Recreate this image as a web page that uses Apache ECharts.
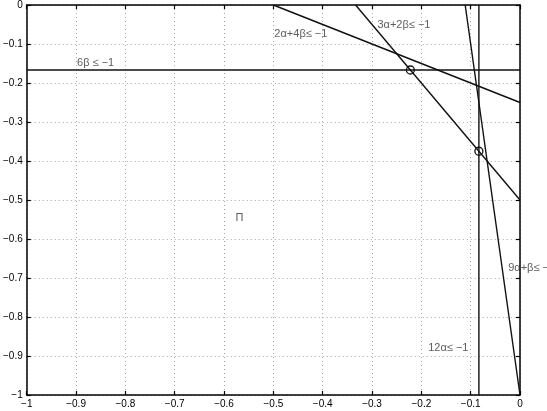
<!DOCTYPE html>
<html><head><meta charset="utf-8">
<script src="https://cdn.jsdelivr.net/npm/echarts@6/dist/echarts.min.js"></script>
<style>html,body{margin:0;padding:0;background:#fff}#c{width:547px;height:411px}</style>
</head><body><div id="c"></div>
<script>
// Constraint lines: endpoints [alpha, beta]
var line6b   = [[-1, -1/6], [0, -1/6]];
var line12a  = [[-1/12, 0], [-1/12, -1]];
var line2a4b = [[-0.5, 0], [0, -0.25]];
var line3a2b = [[-1/3, 0], [0, -0.5]];
var line9ab  = [[-1/9, 0], [0, -1]];
// Marked vertices
var vertices = [[-2/9, -1/6], [-1/12, -0.375]];
// Text labels [alpha, beta, text]
var labels = [
  [-0.898, -0.148, '6β ≤ −1'],
  [-0.498, -0.074, '2α+4β≤ −1'],
  [-0.289, -0.051, '3α+2β≤ −1'],
  [-0.024, -0.675, '9α+β≤ −1'],
  [-0.186, -0.880, '12α≤ −1'],
  [-0.577, -0.547, 'Π']
];
var xTicks = [-1, -0.9, -0.8, -0.7, -0.6, -0.5, -0.4, -0.3, -0.2, -0.1, 0];
var yTicks = [0, -0.1, -0.2, -0.3, -0.4, -0.5, -0.6, -0.7, -0.8, -0.9, -1];

function fmt(v){ if (Math.abs(v) < 1e-9) return '0'; var s = String(Math.round(v*10)/10); return s.replace('-', '−'); }

var grid = {left: 24.5, right: 27, top: 4, bottom: 16};
var axBase = {
  type: 'value', min: -1, max: 0, interval: 0.1,
  axisLine: {show: true, onZero: false, lineStyle: {color: '#000', width: 1.5}},
  axisTick: {show: true, inside: true, length: 4, lineStyle: {color: '#000', width: 1.2}}
};
var chart = echarts.init(document.getElementById('c'), null, {renderer: 'canvas'});
function lineSeries(d){
  return {type: 'line', data: d, xAxisIndex: 0, yAxisIndex: 0, symbol: 'none', silent: true,
    lineStyle: {color: '#111', width: 1.4}, clip: true, animation: false};
}
chart.setOption({
  animation: false,
  grid: grid,
  xAxis: [
    Object.assign({}, axBase, {position: 'bottom',
      axisLabel: {show: true, color: '#000', fontFamily: 'Liberation Sans', fontSize: 10, margin: 4, formatter: fmt},
      splitLine: {show: true, lineStyle: {color: '#aaa', type: [1, 3], width: 1}}}),
    Object.assign({}, axBase, {position: 'top', axisLabel: {show: false}, splitLine: {show: false}})
  ],
  yAxis: [
    Object.assign({}, axBase, {position: 'left',
      axisLabel: {show: true, color: '#000', fontFamily: 'Liberation Sans', fontSize: 10, margin: 4, formatter: fmt},
      splitLine: {show: true, lineStyle: {color: '#aaa', type: [1, 3], width: 1}}}),
    Object.assign({}, axBase, {position: 'right', axisLabel: {show: false}, splitLine: {show: false}})
  ],
  series: [
    lineSeries(line6b), lineSeries(line12a), lineSeries(line2a4b), lineSeries(line3a2b), lineSeries(line9ab),
    {type: 'scatter', data: vertices, symbol: 'circle', symbolSize: 8, z: 5,
      itemStyle: {color: 'rgba(0,0,0,0)', borderColor: '#111', borderWidth: 1.3, opacity: 1}, silent: true},
    {type: 'scatter', data: labels.map(function(l){ return {value: [l[0], l[1]], name: l[2]}; }),
      symbolSize: 0, silent: true,
      label: {show: true, position: 'right', distance: 0, formatter: function(p){ return p.name; },
        color: '#333', fontFamily: 'Liberation Sans', fontSize: 11}}
  ]
});
</script></body></html>
